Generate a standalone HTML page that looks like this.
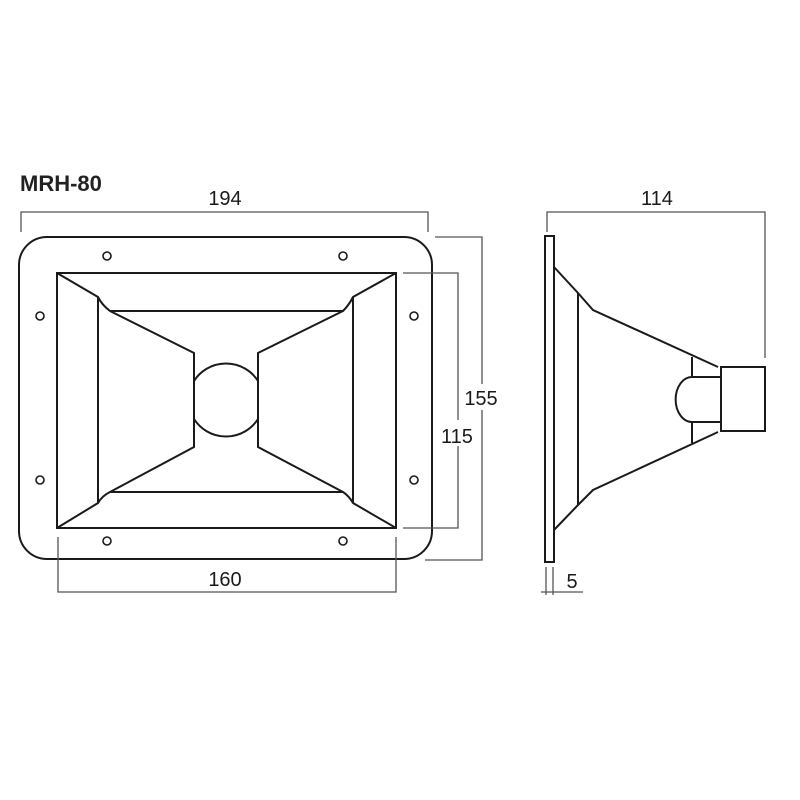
<!DOCTYPE html>
<html><head><style>html,body{margin:0;padding:0;background:#fff}svg{display:block}</style></head><body>
<svg width="800" height="800" viewBox="0 0 800 800" xmlns="http://www.w3.org/2000/svg" font-family="Liberation Sans, sans-serif">
<rect width="800" height="800" fill="#fff"/>
<text x="20" y="191" font-size="22" font-weight="bold" fill="#222">MRH-80</text>
<g fill="none" stroke="#1a1a1a" stroke-width="2">
<rect x="19" y="237" width="413" height="322" rx="28"/>
<rect x="57" y="273" width="339" height="255"/>
<path d="M57 273 L98 297 Q102 305 110 311 L343 311 Q349 305 353 297 L396 273"/>
<path d="M57 528 L98 503 Q102 496 110 492 L343 492 Q349 496 353 503 L396 528"/>
<path d="M98 297 V503 M353 297 V503"/>
<path d="M110 311 L194 353 V447 L110 492 M343 311 L258 353 V447 L343 492"/>
<path d="M194 381 A38 38 0 0 1 258 381 M194 419 A38 38 0 0 0 258 419"/>
</g>
<g fill="#fff" stroke="#1a1a1a" stroke-width="1.6">
<circle cx="107" cy="256" r="4"/><circle cx="343" cy="256" r="4"/>
<circle cx="40" cy="316" r="4"/><circle cx="414" cy="316" r="4"/>
<circle cx="40" cy="480" r="4"/><circle cx="414" cy="480" r="4"/>
<circle cx="107" cy="541" r="4"/><circle cx="343" cy="541" r="4"/>
</g>
<g fill="none" stroke="#555" stroke-width="1.3">
<path d="M21 232 V212 H428 V232"/>
<path d="M435 237 H482 V560 H425"/>
<path d="M403 273 H458 V528 H403"/>
<path d="M58 537 V592 H396 V537"/>
<path d="M547 232 V212 H765 V358"/>
<path d="M546 567 V595 M553 567 V595 M541 592 H583"/>
</g>
<rect x="436" y="420" width="44" height="26" fill="#fff"/>
<rect x="462" y="384" width="40" height="26" fill="#fff"/>
<g font-size="20" fill="#1a1a1a" text-anchor="middle">
<text x="225" y="205">194</text>
<text x="481" y="405">155</text>
<text x="457" y="443">115</text>
<text x="225" y="586">160</text>
<text x="657" y="205">114</text>
<text x="572" y="588">5</text>
</g>
<g fill="none" stroke="#1a1a1a" stroke-width="2">
<rect x="545" y="236" width="9" height="326"/>
<path d="M554 267 L578 293 L593 310 L718 367"/>
<path d="M554 530 L578 505 L593 490 L718 432"/>
<path d="M578 293 V505"/>
<path d="M692 357 V377 H721 V367 M692 443 V422 H721 V431"/>
<rect x="721" y="367" width="44" height="64"/>
<path d="M692 377 A16 22 0 0 0 692 422"/>
</g>
</svg>
</body></html>
